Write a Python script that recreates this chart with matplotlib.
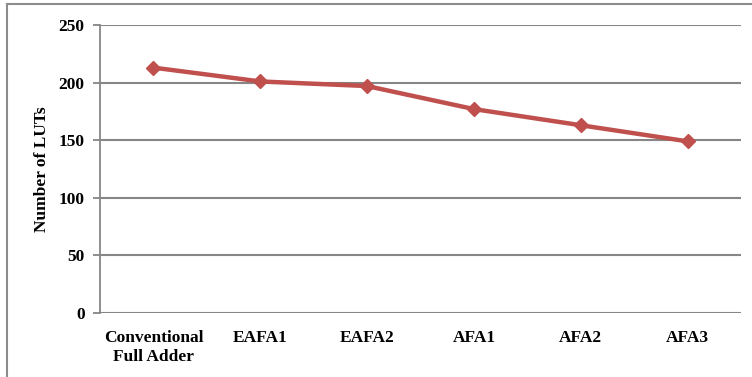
import matplotlib
matplotlib.use("Agg")
import matplotlib.pyplot as plt
from matplotlib.lines import Line2D

categories = ["Conventional\nFull Adder", "EAFA1", "EAFA2", "AFA1", "AFA2", "AFA3"]
luts = [213, 201, 197, 177, 163, 149]
y_ticks = [0, 50, 100, 150, 200, 250]

W, H = 752, 377
fig = plt.figure(figsize=(W / 100, H / 100), dpi=100)
fig.patch.set_facecolor("white")

left, right, top, bottom = 100, 741, 25, 313
ax = fig.add_axes([left / W, 1 - bottom / H, (right - left) / W, (bottom - top) / H])

font = {"family": "Liberation Serif", "weight": "bold", "size": 12.5}
grid_color = "#868686"

x = list(range(len(categories)))
ax.plot(x, luts, color="#C0504D", linewidth=3.2, marker="D", markersize=7.5,
        markerfacecolor="#C0504D", markeredgecolor="#C0504D", zorder=3)

ax.set_xlim(-0.5, len(categories) - 0.5)
ax.set_ylim(0, 250)
ax.set_yticks(y_ticks)
ax.set_yticklabels([str(v) for v in y_ticks], fontdict=font)
ax.set_xticks(x)
ax.set_xticklabels(categories, fontdict=font, linespacing=1.25)
ax.tick_params(axis="x", length=0, pad=12)
ax.tick_params(axis="y", length=5, width=1.3, color=grid_color, pad=6)

ax.yaxis.grid(True, color=grid_color, linewidth=1.5)
ax.set_axisbelow(True)
for s in ["top", "right", "bottom"]:
    ax.spines[s].set_visible(False)
ax.spines["left"].set_color(grid_color)
ax.spines["left"].set_linewidth(1.3)

ax.set_ylabel("Number of LUTs", fontdict=font, labelpad=6)

# chart frame on the left and top edges
fig.add_artist(Line2D([7 / W, 7 / W], [0, 1 - 4 / H], color="#8c8c8c", linewidth=1.5,
                      transform=fig.transFigure))
fig.add_artist(Line2D([7 / W, 1], [1 - 4 / H, 1 - 4 / H], color="#8c8c8c", linewidth=1.5,
                      transform=fig.transFigure))

fig.savefig("out.png", dpi=100)
